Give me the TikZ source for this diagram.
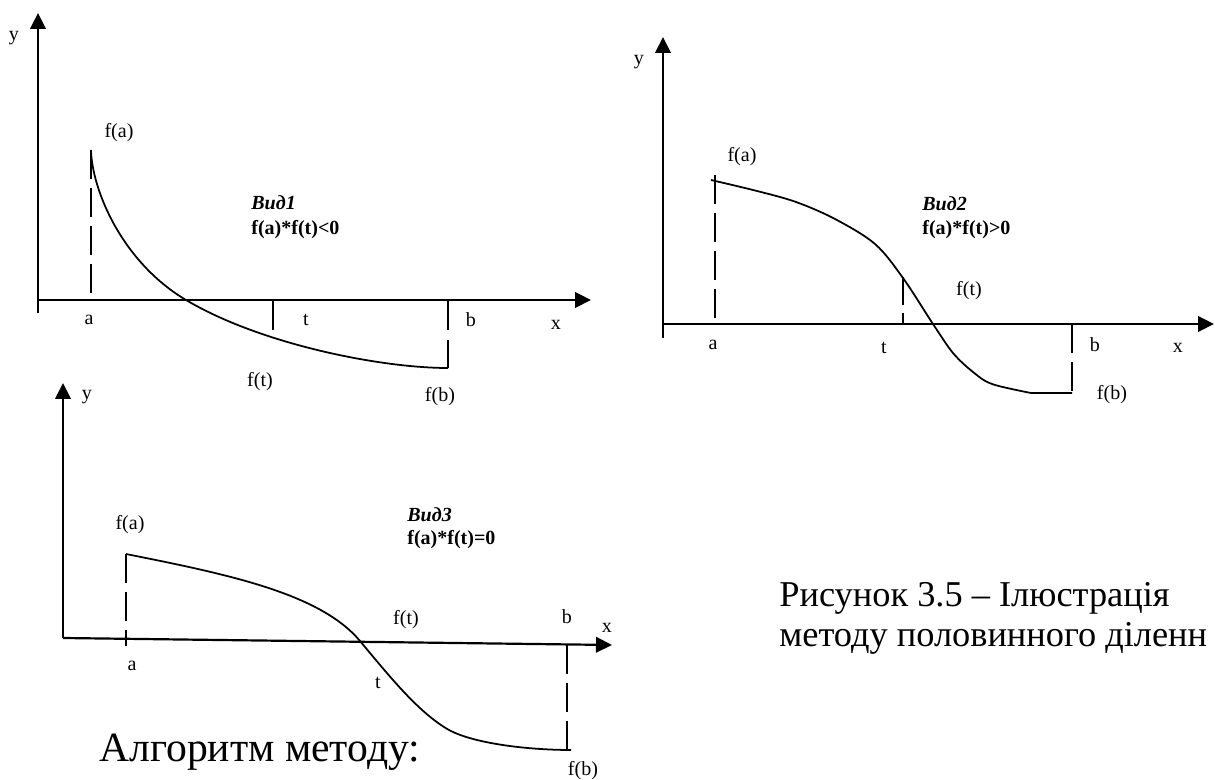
\documentclass[tikz,border=0pt]{standalone}
\usepackage{fontspec}
\setmainfont{Liberation Serif}
\usetikzlibrary{arrows.meta}
\begin{document}
\begin{tikzpicture}[x=0.02cm,y=-0.02cm,
 axis/.style={line width=1.25pt,-{Triangle[length=0.32cm,width=0.31cm]}},
 curve/.style={line width=1pt},
 dashline/.style={line width=1.1pt,dash pattern=on 0.58cm off 0.18cm},
 solidtick/.style={line width=1.1pt},
 lbl/.style={inner sep=0pt,font=\fontsize{11.4}{13}\selectfont},
 vid/.style={inner sep=0pt,anchor=west,font=\fontsize{11.4}{13}\selectfont\bfseries\itshape},
 cond/.style={inner sep=0pt,anchor=west,font=\fontsize{11.4}{13}\selectfont\bfseries},
 bigtext/.style={inner sep=0pt,anchor=base west,font=\fontsize{23.7}{27}\selectfont},
 captext/.style={inner sep=0pt,anchor=base west,font=\fontsize{20.7}{24}\selectfont}]
\useasboundingbox (0,0) rectangle (1215,780);

% ---------- graph 1 ----------
\coordinate (g1ybot) at (38,313);
\coordinate (g1ytip) at (38,13);
\coordinate (g1o) at (38,300);
\coordinate (g1xtip) at (591,300);
\draw[axis] (g1ybot) -- (g1ytip);
\draw[axis] (g1o) -- (g1xtip);
\coordinate (g1A) at (91,150);
\coordinate (g1Aax) at (91,298);
\coordinate (g1Z) at (186,300);
\coordinate (g1B) at (448,368);
\coordinate (g1Bax) at (448,300);
\coordinate (g1T) at (273,300);
\coordinate (g1Tend) at (273,330);
\draw[dashline] (g1A) -- (g1Aax);
\draw[curve] (g1A) .. controls (92,190) and (122,262) .. (g1Z)
  .. controls (260,344) and (380,368) .. (g1B);
\draw[solidtick] (g1T) -- (g1Tend);
\draw[dashline,dash pattern=on 0.6cm off 0.2cm] (g1Bax) -- (g1B);
\node[lbl] (g1y) at (14,38) {y};
\node[lbl] (g1fa) at (119,133) {f(a)};
\node[vid] (g1vid) at (251,203) {Вид1};
\node[cond] (g1cond) at (251,230) {f(a)*f(t)<0};
\node[lbl] (g1a) at (89,320) {a};
\node[lbl] (g1t) at (306,320) {t};
\node[lbl] (g1b) at (471,320) {b};
\node[lbl] (g1x) at (556,325) {x};
\node[lbl] (g1ft) at (260,382) {f(t)};
\node[lbl] (g1fb) at (440,397) {f(b)};

% ---------- graph 2 ----------
\coordinate (g2ybot) at (663,338);
\coordinate (g2ytip) at (663,37);
\coordinate (g2o) at (663,324);
\coordinate (g2xtip) at (1214,324);
\draw[axis] (g2ybot) -- (g2ytip);
\draw[axis] (g2o) -- (g2xtip);
\coordinate (g2Atop) at (715,175);
\coordinate (g2Aax) at (715,324);
\coordinate (g2Ttop) at (903,277);
\coordinate (g2Tax) at (903,324);
\coordinate (g2Bax) at (1072,324);
\coordinate (g2B) at (1072,393);
\draw[dashline] (g2Atop) -- (g2Aax);
\draw[dashline,dash pattern=on 0.56cm off 0.16cm] (g2Ttop) -- (g2Tax);
\draw[dashline,dash pattern=on 0.58cm off 0.18cm] (g2Bax) -- (g2B);
\draw[curve] plot[smooth,tension=0.55] coordinates {(711,180) (757,191) (796,202) (835,219) (875,244) (903,278) (933,324) (953,353) (973,372) (992,384) (1031,393)} -- (g2B);
\node[lbl] (g2y) at (639,62) {y};
\node[lbl] (g2fa) at (742,157) {f(a)};
\node[vid] (g2vid) at (922,204) {Вид2};
\node[cond] (g2cond) at (922,230) {f(a)*f(t)>0};
\node[lbl] (g2ft) at (969,291) {f(t)};
\node[lbl] (g2a) at (713,345) {a};
\node[lbl] (g2t) at (884,348) {t};
\node[lbl] (g2b) at (1095,345) {b};
\node[lbl] (g2x) at (1178,348) {x};
\node[lbl] (g2fb) at (1112,395) {f(b)};

% ---------- graph 3 ----------
\coordinate (g3o) at (63,638);
\coordinate (g3ytip) at (63,383);
\coordinate (g3xtip) at (612,645);
\draw[axis] (g3o) -- (g3ytip);
\draw[axis] (g3o) -- (g3xtip);
\coordinate (g3Atop) at (126,554);
\coordinate (g3Abot) at (126,646);
\coordinate (g3Bax) at (567,645);
\coordinate (g3B) at (567,749);
\coordinate (g3Z) at (360,641);
\coordinate (g3M) at (449,730);
\coordinate (g3E) at (571,750);
\draw[dashline] (g3Atop) -- (g3Abot);
\draw[dashline] (g3Bax) -- (g3B);
\draw[curve] (g3Atop) .. controls (226,574) and (320,593) .. (g3Z)
  .. controls (390,677) and (419,713) .. (g3M)
  .. controls (475,744) and (530,750) .. (g3E);
\node[lbl] (g3y) at (87,397) {y};
\node[lbl] (g3fa) at (130,525) {f(a)};
\node[vid] (g3vid) at (407,515) {Вид3};
\node[cond] (g3cond) at (407,540) {f(a)*f(t)=0};
\node[lbl] (g3ft) at (406,620) {f(t)};
\node[lbl] (g3b) at (567,617) {b};
\node[lbl] (g3x) at (607,628) {x};
\node[lbl] (g3a) at (132,666) {a};
\node[lbl] (g3t) at (378,683) {t};
\node[lbl] (g3fb) at (583,771) {f(b)};

% ---------- texts ----------
\node[bigtext] (alg) at (99,762) {Алгоритм методу:};
\node[captext] (cap1) at (779,607) {Рисунок 3.5 – Ілюстрація};
\node[captext] (cap2) at (779,647) {методу половинного діленн};
\end{tikzpicture}
\end{document}
